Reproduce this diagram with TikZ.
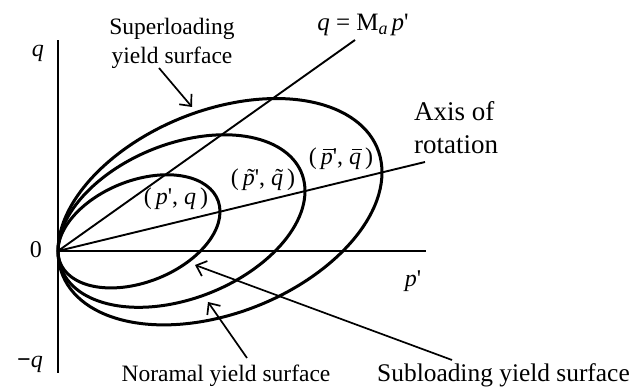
\documentclass[tikz,border=0pt]{standalone}
\usepackage{fontspec}
\setmainfont{Liberation Serif}
\usetikzlibrary{arrows.meta}
\newcommand\topacc[2]{{\ooalign{\textit{#2}\cr\hidewidth\kern0.18em\raisebox{#1}{\char"02DC}\hidewidth\cr}}}
\newcommand\topbar[1]{{\ooalign{\textit{#1}\cr\hidewidth\kern0.14em\raisebox{0.62em}{\rule{0.42em}{1.3pt}}\hidewidth\cr}}}
\newcommand\prm{\textquotesingle}
\begin{document}
\begin{tikzpicture}[x=1pt,y=1pt,
  curve/.style={line width=3pt},
  axisline/.style={line width=2.8pt},
  ray/.style={line width=1.9pt},
  pointer/.style={line width=1.7pt,-{Straight Barb[length=9pt,width=16pt,line width=1.7pt]}},
  lbl/.style={font=\fontsize{23.5}{29}\selectfont, inner sep=0pt, align=center},
  biglbl/.style={font=\fontsize{27}{33}\selectfont, inner sep=0pt, align=left},
  pairlbl/.style={font=\fontsize{24}{28}\selectfont, inner sep=0pt}]
\useasboundingbox (-58,-136) rectangle (580,251);
\coordinate (O) at (0,0);
\coordinate (qtop) at (0,211);
\coordinate (qbot) at (0,-122);
\coordinate (pend) at (368,0);
\coordinate (mend) at (297,211);
\coordinate (aend) at (367,89);
% axes
\draw[axisline] (qbot) -- (qtop);
\draw[axisline] (O) -- (pend);
% rays
\draw[ray] (O) -- (mend);
\draw[ray] (O) -- (aend);
% yield surfaces (sheared ellipses tangent to q-axis at origin)
\draw[curve, cm={1,0.2425,0,0.655,(0,0)}] (162,0) circle[radius=162];
\draw[curve, cm={1,0.2425,0,0.655,(0,0)}] (123.5,0) circle[radius=123.5];
\draw[curve, cm={1,0.2425,0,0.655,(0,0)}] (81,0) circle[radius=81];
% axis labels
\node[pairlbl] (qlab) at (-20,198) {\textit{q}};
\node[pairlbl] (zlab) at (-22,1) {0};
\node[pairlbl] (mqlab) at (-28,-113) {\textbf{−}\textit{q}};
\node[pairlbl] (plab) at (355,-30) {\textit{p}\prm};
% line labels
\node[pairlbl, font=\fontsize{25}{28}\selectfont] (mlab) at (305,226) {\textit{q} = M\raisebox{-4pt}{\fontsize{18}{18}\selectfont\textit{a}}\,\textit{p}\prm};
\node[biglbl, anchor=west] (alab) at (356,123) {Axis of\\rotation};
% point labels
\node[pairlbl] (pbar) at (283,92) {(\,\topbar{p}\prm, \topbar{q}\,)};
\node[pairlbl] (ptil) at (205,71) {(\,\topacc{0pt}{p}\prm, \topacc{0pt}{q}\,)};
\node[pairlbl] (pp) at (118,52) {(\,\textit{p}\prm, \textit{q}\,)};
% surface labels
\node[lbl] (super) at (114,208) {Superloading\\yield surface};
\node[lbl, anchor=base] (normal) at (168,-131) {Noramal yield surface};
\node[lbl, anchor=base, font=\fontsize{25.4}{29}\selectfont] (sub) at (445.5,-131) {Subloading yield surface};
% pointers
\coordinate (s1) at (101,183); \coordinate (s2) at (134,144);
\coordinate (n1) at (189,-107); \coordinate (n2) at (150,-51);
\coordinate (b1) at (394,-109); \coordinate (b2) at (137,-14);
\draw[pointer] (s1) -- (s2);
\draw[pointer] (n1) -- (n2);
\draw[pointer] (b1) -- (b2);
\end{tikzpicture}
\end{document}
